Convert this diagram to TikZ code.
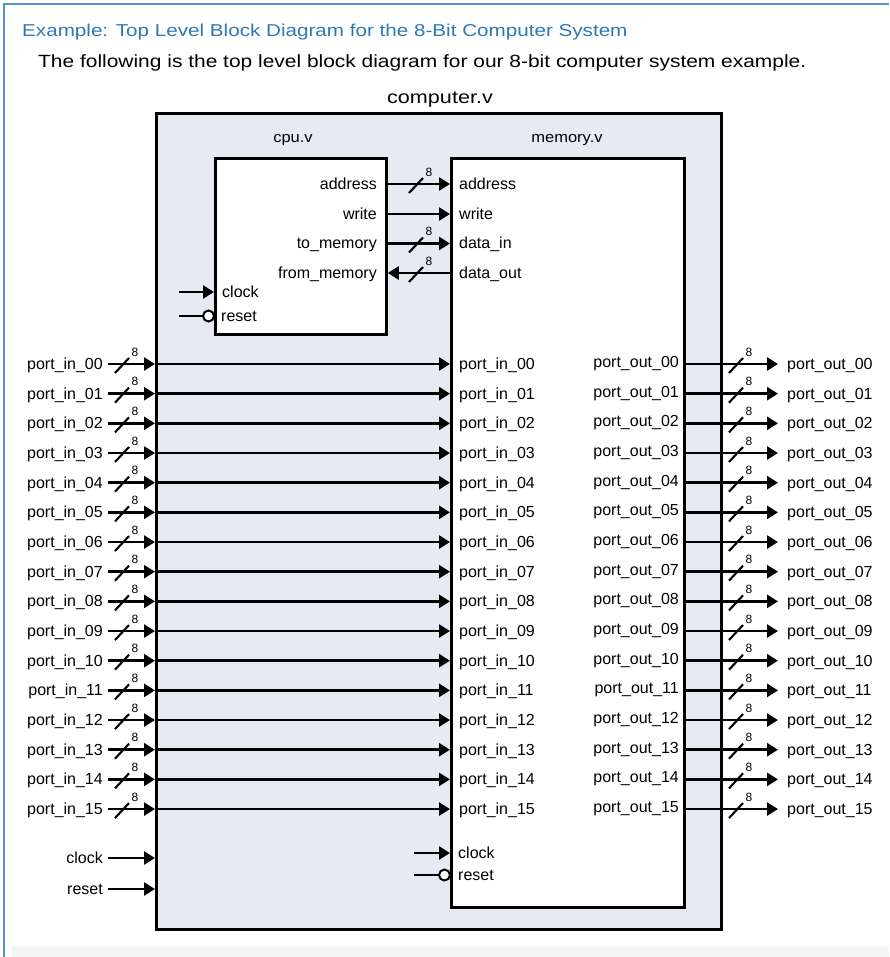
\documentclass[tikz,border=0pt]{standalone}
\usepackage{fontspec}
\setmainfont{Liberation Sans}
\usetikzlibrary{arrows.meta}
\definecolor{titleblue}{RGB}{46,120,182}
\definecolor{frameblue}{RGB}{80,145,215}
\definecolor{compfill}{RGB}{231,234,243}
\newcommand\busslash[1]{%
  \draw[line width=2.1pt] (#1) ++(-7,9) -- ++(14,-15);
  \path (#1) ++(13,-12) node[eight] {8};}
\begin{document}
\begin{tikzpicture}[x=1pt,y=-1pt,
  lbl/.style={font=\fontsize{16}{19}\selectfont, inner sep=0pt},
  eight/.style={font=\fontsize{12}{14}\selectfont, inner sep=0pt},
  sig/.style={line width=2.6pt},
  tip/.style={-{Triangle[length=11pt,width=13pt]}},
  box/.style={draw, line width=2.8pt, inner sep=0pt, anchor=north west},
  bubble/.style={circle, draw, line width=2pt, fill=white, minimum size=11pt, inner sep=0pt},
]
\useasboundingbox (0,0) rectangle (889,957);
% page frame
\fill[gray!8] (12,946) rectangle (889,957);
\draw[frameblue, line width=2pt] (4,957) -- (4,4) -- (889,4);
% titles
\node[anchor=base west, inner sep=0pt, text=titleblue, font=\fontsize{17.2}{20}\selectfont] (title) at (22,37)
  {\scalebox{1.2}[1]{Example: Top Level Block Diagram for the 8-Bit Computer System}};
\node[anchor=base west, inner sep=0pt, font=\fontsize{17.7}{21}\selectfont] (subtitle) at (38,68)
  {\scalebox{1.183}[1]{The following is the top level block diagram for our 8-bit computer system example.}};
\node[anchor=base, inner sep=0pt, font=\fontsize{18}{22}\selectfont] (comptitle) at (440,104)
  {\scalebox{1.2}[1]{computer.v}};
% boxes
\node[box, fill=compfill, minimum width=565pt, minimum height=816pt] (comp) at (155,112) {};
\node[box, fill=white, minimum width=171pt, minimum height=176pt] (cpu) at (214,157) {};
\node[box, fill=white, minimum width=233pt, minimum height=749pt] (mem) at (450,157) {};
\node[anchor=base, inner sep=0pt, font=\fontsize{15}{18}\selectfont] (cputitle) at (293,143) {\scalebox{1.1}[1]{cpu.v}};
\node[anchor=base, inner sep=0pt, font=\fontsize{15}{18}\selectfont] (memtitle) at (567,143) {\scalebox{1.1}[1]{memory.v}};
% cpu <-> memory
\foreach \nm/\lt/\rt/\yy/\bus/\dir in {a/address/address/184/1/1, w/write/write/214/0/1, t/to\_memory/data\_in/243.5/1/1, f/from\_memory/data\_out/273/1/0} {
  \node[lbl, anchor=base east] (cpuL\nm) at (377,\yy+5.5) {\lt};
  \node[lbl, anchor=base west] (memL\nm) at (459,\yy+5.5) {\rt};
  \coordinate (cm\nm) at (416,\yy);
  \ifnum\dir=1
    \draw[sig,tip] (cpu.east |- cm\nm) -- (mem.west |- cm\nm);
  \else
    \draw[sig,tip] (mem.west |- cm\nm) -- (cpu.east |- cm\nm);
  \fi
  \ifnum\bus=1 \busslash{cm\nm} \fi
}
% cpu clock / reset
\coordinate (cclk) at (179,292);
\draw[sig,tip] (cclk) -- (cpu.west |- cclk);
\node[lbl, anchor=base west] (cpuclk) at (222,297.5) {clock};
\coordinate (crst) at (179,316);
\node[bubble] (crc) at (208.5,316) {};
\draw[sig] (crst) -- (crc.west);
\node[lbl, anchor=base west] (cpurst) at (221,321.5) {reset};
% ports
\foreach \i in {0,...,15} {
  \pgfmathsetmacro\yy{364+29.67*\i}
  \edef\nn{\ifnum\i<10 0\fi\i}
  \node[lbl, anchor=base east] (pinL\nn) at (103,\yy+5.5) {port\_in\_\nn};
  \coordinate (inA\nn) at (108,\yy);
  \draw[sig,tip] (inA\nn) -- (comp.west |- inA\nn);
  \draw[sig,tip] (comp.west |- inA\nn) -- (mem.west |- inA\nn);
  \coordinate (inS\nn) at (122,\yy);
  \busslash{inS\nn}
  \node[lbl, anchor=base west] (pinM\nn) at (459,\yy+5.5) {port\_in\_\nn};
  \node[lbl, anchor=base east] (poutM\nn) at (679,\yy+3.5) {port\_out\_\nn};
  \coordinate (outB\nn) at (778,\yy);
  \draw[sig,tip] (mem.east |- outB\nn) -- (outB\nn);
  \coordinate (outS\nn) at (736,\yy);
  \busslash{outS\nn}
  \node[lbl, anchor=base west] (poutR\nn) at (787,\yy+5.5) {port\_out\_\nn};
}
% top-level clock / reset
\node[lbl, anchor=base east] (lclkL) at (103,863.5) {clock};
\coordinate (lclk) at (108,858);
\draw[sig,tip] (lclk) -- (comp.west |- lclk);
\node[lbl, anchor=base east] (lrstL) at (103,894.5) {reset};
\coordinate (lrst) at (108,889);
\draw[sig,tip] (lrst) -- (comp.west |- lrst);
% memory clock / reset
\coordinate (mclk) at (414,853);
\draw[sig,tip] (mclk) -- (mem.west |- mclk);
\node[lbl, anchor=base west] (memclk) at (458,858.5) {clock};
\coordinate (mrst) at (414,875);
\node[bubble] (mrc) at (444.5,875) {};
\draw[sig] (mrst) -- (mrc.west);
\node[lbl, anchor=base west] (memrst) at (458,880.5) {reset};
\end{tikzpicture}
\end{document}
